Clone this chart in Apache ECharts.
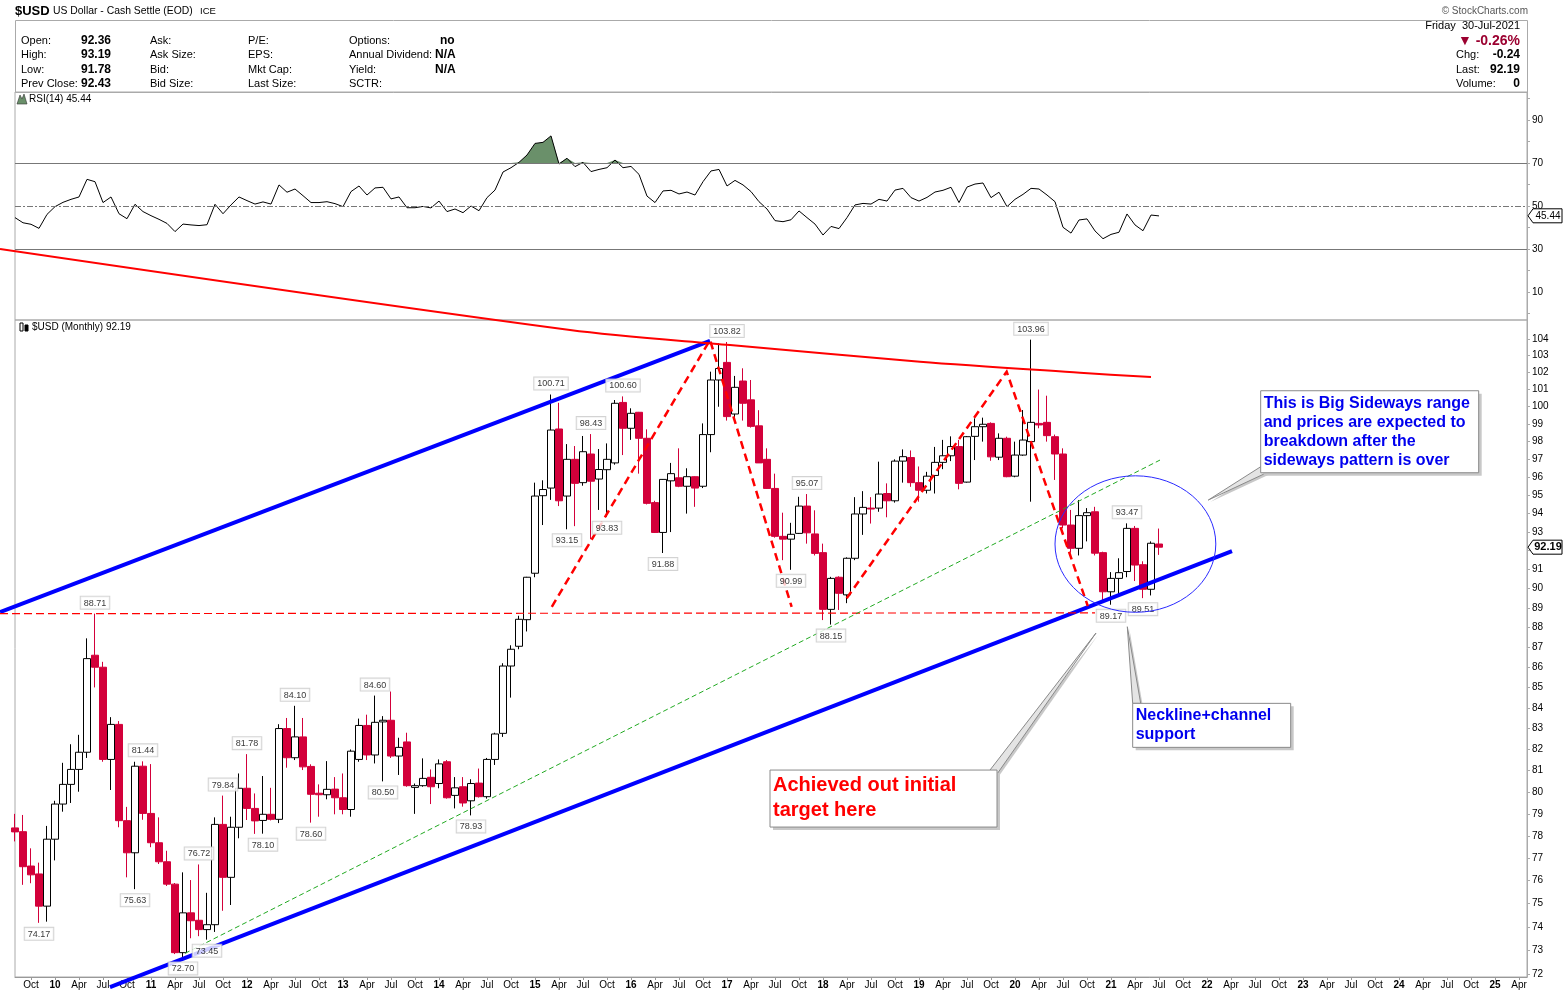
<!DOCTYPE html>
<html>
<head>
<meta charset="utf-8">
<script src="https://cdn.jsdelivr.net/npm/echarts@6/dist/echarts.min.js"></script>
<style>
  html, body { margin: 0; padding: 0; background: #fff; }
  #chart { width: 1565px; height: 992px; }
</style>
</head>
<body>
<div id="chart"></div>
<script>
// month index: 0 = Jan 2010, first bar is Aug 2009
const firstMonth = -5;

const opens = [
  78.36, 78.19, 76.65, 76.30, 74.89,
  77.85, 79.45, 80.36, 81.06, 81.87, 86.60, 86.00, 81.53, 83.20, 78.69, 77.24, 81.21,
  79.02, 77.69, 76.84, 75.85, 72.90, 74.60, 74.28, 73.88, 74.09, 78.52, 76.15, 78.39,
  80.18, 79.25, 78.70, 78.98, 78.75, 83.00, 81.61, 82.60, 81.20, 79.95, 79.88, 80.14,
  79.74, 79.20, 81.53, 83.15, 81.74, 83.32, 83.40, 81.69, 82.36, 80.22, 80.30, 80.69,
  80.40, 81.42, 79.85, 80.25, 79.60, 80.42, 79.79, 81.53, 82.77, 86.06, 87.05, 88.40,
  90.81, 94.98, 95.40, 98.72, 94.96, 97.00, 95.70, 97.30, 95.90, 96.42, 96.80, 100.25,
  98.76, 99.68, 98.19, 94.60, 92.98, 95.80, 95.97, 95.50, 96.03, 95.50, 98.40, 101.56,
  102.60, 99.58, 101.50, 100.40, 98.90, 97.00, 95.38, 92.77, 92.62, 92.93, 94.41, 92.90,
  91.90, 88.93, 90.60, 89.68, 91.60, 93.98, 94.30, 94.30, 95.10, 94.70, 96.90, 97.10,
  95.70, 95.28, 96.10, 96.83, 97.20, 97.72, 95.73, 98.30, 98.85, 99.04, 97.12, 98.19,
  96.06, 97.24, 98.00, 99.04, 99.10, 98.28, 97.30, 93.38, 92.13, 93.89, 94.10, 91.90,
  89.84, 90.54, 90.90, 93.20, 91.26, 89.97, 92.36
];
const highs = [
  79.00, 78.95, 77.44, 76.80, 78.45,
  79.60, 81.37, 82.25, 82.70, 87.45, 88.71, 86.27, 83.55, 83.36, 79.32, 81.42, 81.44,
  81.31, 78.84, 77.33, 75.90, 76.37, 76.03, 76.72, 75.47, 78.84, 79.84, 78.87, 80.87,
  81.78, 79.94, 80.75, 80.20, 83.21, 83.51, 84.10, 83.51, 81.30, 80.36, 81.45, 80.70,
  80.87, 82.00, 83.48, 83.67, 84.60, 83.60, 84.80, 82.56, 82.80, 80.40, 81.58, 81.06,
  81.53, 81.50, 80.70, 80.70, 80.60, 81.10, 81.60, 82.80, 86.20, 87.10, 88.60, 90.62,
  95.70, 95.83, 100.71, 100.23, 97.86, 97.75, 98.32, 98.43, 97.58, 97.90, 100.39, 100.60,
  99.91, 99.70, 98.70, 94.70, 95.90, 96.80, 97.62, 96.50, 96.05, 99.04, 102.05, 103.74,
  103.82, 101.80, 102.25, 101.56, 99.80, 97.62, 96.20, 94.05, 93.50, 94.92, 95.07, 94.18,
  92.38, 90.62, 90.65, 91.65, 94.90, 95.23, 94.90, 96.87, 95.66, 97.00, 97.56, 97.50,
  96.60, 96.30, 97.70, 98.10, 98.30, 98.10, 98.32, 99.33, 99.37, 99.10, 98.47, 98.28,
  98.00, 99.81, 103.96, 101.00, 100.64, 98.40, 97.62, 94.20, 94.74, 94.30, 94.37, 91.95,
  90.87, 91.60, 93.47, 93.33, 91.44, 92.50, 93.19
];
const lows = [
  77.75, 75.82, 75.89, 74.17, 74.22,
  76.90, 79.10, 79.50, 80.02, 81.60, 85.00, 81.42, 80.10, 78.39, 76.15, 75.63, 78.73,
  77.49, 76.74, 75.77, 72.84, 72.70, 73.51, 73.60, 73.45, 73.78, 74.69, 74.94, 77.89,
  78.72, 78.09, 78.10, 78.70, 78.58, 81.14, 81.50, 81.03, 78.60, 78.87, 79.67, 78.98,
  78.98, 78.87, 81.42, 81.50, 81.34, 80.50, 81.60, 80.80, 80.25, 79.00, 80.25, 79.45,
  80.18, 79.70, 79.25, 79.33, 78.93, 79.75, 79.70, 81.27, 82.60, 84.50, 86.90, 87.80,
  90.60, 93.38, 94.75, 94.41, 93.15, 93.32, 95.53, 92.62, 94.20, 93.83, 96.70, 97.24,
  98.10, 96.20, 94.50, 92.95, 91.88, 93.00, 95.45, 94.00, 94.37, 95.40, 97.40, 100.00,
  99.20, 99.20, 99.20, 98.80, 96.80, 95.35, 92.70, 91.50, 90.99, 92.90, 92.38, 91.75,
  88.38, 88.15, 88.90, 89.25, 91.50, 92.85, 93.46, 94.10, 93.80, 94.60, 95.70, 95.47,
  94.65, 95.10, 95.10, 96.45, 96.90, 95.33, 95.70, 96.96, 98.00, 96.92, 96.96, 96.00,
  96.00, 97.20, 94.65, 98.76, 98.00, 95.85, 93.20, 91.90, 91.75, 92.50, 91.75, 89.40,
  89.17, 89.70, 90.60, 90.40, 89.51, 89.65, 91.78
];
const closes = [
  78.18, 76.62, 76.26, 74.89, 77.85,
  79.45, 80.36, 81.06, 81.87, 86.43, 86.00, 81.53, 83.20, 78.69, 77.24, 81.21, 79.02,
  77.69, 76.84, 75.85, 72.90, 74.60, 74.26, 73.88, 74.09, 78.52, 76.15, 78.39, 80.18,
  79.25, 78.68, 78.98, 78.75, 83.00, 81.61, 82.60, 81.18, 79.90, 79.88, 80.13, 79.74,
  79.20, 81.92, 83.15, 81.74, 83.30, 83.40, 81.69, 82.10, 80.30, 80.30, 80.64, 80.25,
  81.32, 79.74, 80.20, 79.50, 80.40, 79.79, 81.53, 82.74, 86.06, 86.90, 88.42, 90.60,
  94.96, 95.32, 98.66, 94.70, 97.00, 95.66, 97.43, 95.78, 96.43, 97.00, 100.20, 98.76,
  99.62, 98.19, 94.56, 92.98, 95.88, 96.20, 95.50, 96.03, 95.40, 98.40, 101.56, 102.24,
  99.43, 101.13, 100.20, 98.87, 96.80, 95.38, 92.77, 92.62, 92.88, 94.41, 92.96, 91.86,
  88.93, 90.54, 89.76, 91.60, 93.98, 94.34, 94.25, 95.07, 94.70, 96.90, 97.15, 95.70,
  95.28, 96.06, 96.83, 97.20, 97.72, 95.66, 98.28, 98.85, 98.99, 97.14, 98.19, 96.03,
  97.24, 98.09, 99.10, 98.95, 98.34, 97.30, 93.38, 92.13, 93.89, 94.05, 91.87, 89.84,
  90.54, 90.84, 93.20, 91.24, 89.97, 92.40, 92.19
];
const rsi = [
  44.6, 42.2, 41.5, 39.6, 46.1,
  49.7, 51.7, 53.1, 54.2, 62.4, 61.3, 51.6, 54.2, 46.4, 44.1, 50.8, 47.4,
  45.5, 43.8, 41.9, 38.1, 41.6, 41.2, 40.9, 41.3, 50.8, 46.4, 50.5, 54.2,
  52.5, 50.9, 51.9, 50.9, 59.8, 56.4, 57.9, 54.8, 51.6, 51.6, 52.0, 51.1,
  49.7, 56.7, 59.3, 55.1, 58.4, 58.7, 53.3, 54.2, 49.2, 49.2, 49.8, 49.1,
  52.3, 47.4, 48.6, 46.9, 50.0, 47.8, 53.9, 57.4, 65.8, 67.8, 70.3, 73.7,
  79.1, 79.6, 82.6, 69.5, 72.2, 68.3, 70.3, 66.0, 67.0, 67.8, 71.4, 67.8,
  68.4, 64.7, 54.6, 51.6, 57.0, 57.3, 55.6, 56.5, 55.1, 61.3, 66.3, 67.0,
  59.3, 61.9, 59.8, 56.7, 52.0, 48.6, 43.2, 42.7, 43.6, 47.7, 44.6, 41.6,
  36.5, 40.5, 39.5, 44.6, 50.5, 51.2, 50.9, 53.1, 52.3, 57.4, 58.2, 53.9,
  52.3, 54.0, 56.5, 57.3, 58.7, 51.6, 58.8, 60.2, 60.7, 53.9, 56.4, 49.7,
  53.1, 55.4, 58.2, 57.9, 55.1, 52.0, 40.1, 37.4, 43.5, 44.0, 38.4, 34.8,
  36.8, 37.8, 46.3, 41.2, 38.5, 45.8, 45.4
];

const priceTicks = [72, 73, 74, 75, 76, 77, 78, 79, 80, 81, 82, 83, 84, 85, 86, 87, 88,
  89, 90, 91, 92, 93, 94, 95, 96, 97, 98, 99, 100, 101, 102, 103, 104];
const rsiTicks = [10, 30, 50, 70, 90];
const rsiMinorTicks = [0, 10, 20, 30, 40, 50, 60, 70, 80, 90, 100];
const monthTicks = [];
for (let m = -3; m <= 183; m += 3) monthTicks.push(m);
const monthNames = { 3: 'Apr', 6: 'Jul', 9: 'Oct' };

// high / low flags printed by the chart: [month, value]
const extremeLabels = [
  [-2, 74.17], [5, 88.71], [10, 75.63], [11, 81.44], [16, 72.70], [18, 76.72], [19, 73.45],
  [21, 79.84], [24, 81.78], [26, 78.10], [30, 84.10], [32, 78.60], [40, 84.60], [41, 80.50],
  [52, 78.93], [62, 100.71], [64, 93.15], [67, 98.43], [69, 93.83], [71, 100.60], [76, 91.88],
  [84, 103.82], [92, 90.99], [94, 95.07], [97, 88.15], [122, 103.96], [132, 89.17],
  [134, 93.47], [136, 89.51]
];

// drawn trend lines, as [month, price]
const upperChannel = [[-6.875, 88.79], [81.875, 103.88]];
const lowerChannel = [[6.875, 71.46], [147.125, 91.98]];
const resistanceLine = [[-6.875, 109.56], [64.375, 104.54], [84.375, 103.64], [108.125, 102.64], [128.125, 101.99], [137, 101.73]];
const necklineLevel = [[-6.875, 88.71], [130, 88.75]];
const greenTrend = [[16.25, 72.87], [138.125, 96.96]];
const firstTop = [[62.1, 89.06], [81.875, 103.94], [92.08, 89.06]];
const secondTop = [[98.96, 89.5], [118.96, 102.05], [129.1, 89.1]];
const rangeEllipse = [[125, 96.08], [145.1, 88.78]];

const lastClose = 92.19;
const lastRsi = 45.44;

const FONT = '"Liberation Sans", Arial, sans-serif';

const chart = echarts.init(document.getElementById('chart'));

const bars = opens.map((o, k) => [firstMonth + k, o, closes[k], lows[k], highs[k]]);
const rsiPoints = rsi.map((v, k) => [firstMonth + k, v]);
const overbought = rsi.map((v, k) => [firstMonth + k, Math.max(v, 70)]);

const option = {
  animation: false,
  backgroundColor: '#fff',
  grid: [
    { left: 15, right: 38, top: 92, height: 228, show: true, borderColor: '#aaa', borderWidth: 1 },
    { left: 15, right: 38, top: 320, height: 657, show: true, borderColor: '#aaa', borderWidth: 1 }
  ],
  xAxis: [
    { type: 'value', gridIndex: 0, min: -5, max: 184, show: false, splitLine: { show: false } },
    {
      type: 'value', gridIndex: 1, min: -5, max: 184,
      splitLine: { show: false },
      axisLine: { onZero: false, lineStyle: { color: '#999' } },
      axisTick: { customValues: monthTicks, length: 3, lineStyle: { color: '#999' } },
      axisLabel: {
        customValues: monthTicks, margin: 3, color: '#000', fontSize: 10, fontFamily: FONT,
        formatter: function (v) {
          const m = ((v % 12) + 12) % 12;
          if (m === 0) return '{yr|' + String(2010 + v / 12).slice(-2) + '}';
          return monthNames[m] || '';
        },
        rich: { yr: { fontWeight: 'bold', fontSize: 10, fontFamily: FONT, color: '#000' } }
      }
    }
  ],
  yAxis: [
    {
      type: 'value', gridIndex: 0, min: -3, max: 103, position: 'right',
      splitLine: { show: false },
      axisLine: { show: true, onZero: false, lineStyle: { color: '#aaa' } },
      axisTick: { show: true, customValues: rsiMinorTicks, length: 3, lineStyle: { color: '#aaa' } },
      axisLabel: { customValues: rsiTicks, color: '#000', fontSize: 10, fontFamily: FONT, margin: 5 }
    },
    {
      type: 'log', gridIndex: 1, min: 71.88, max: 105.15, position: 'right',
      splitLine: { show: false },
      axisLine: { show: true, onZero: false, lineStyle: { color: '#aaa' } },
      axisTick: { show: true, customValues: priceTicks, length: 3, lineStyle: { color: '#aaa' } },
      axisLabel: {
        customValues: priceTicks, color: '#000', fontSize: 10, fontFamily: FONT, margin: 5,
        formatter: function (v) { return String(Math.round(v)); }
      }
    }
  ],
  series: [
    {
      type: 'line', xAxisIndex: 0, yAxisIndex: 0, data: overbought, symbol: 'none', silent: true,
      lineStyle: { width: 0 }, areaStyle: { origin: 70, color: '#6a906a', opacity: 1 }, z: 1
    },
    {
      type: 'line', xAxisIndex: 0, yAxisIndex: 0, data: rsiPoints, symbol: 'none', silent: true,
      lineStyle: { color: '#000', width: 1 }, z: 3,
      markLine: {
        silent: true, symbol: 'none', label: { show: false }, animation: false,
        data: [
          { yAxis: 70, lineStyle: { color: '#777', width: 1, type: 'solid' } },
          { yAxis: 50, lineStyle: { color: '#777', width: 1, type: [6, 2, 2, 2] } },
          { yAxis: 30, lineStyle: { color: '#777', width: 1, type: 'solid' } }
        ]
      }
    },
    {
      type: 'candlestick', xAxisIndex: 1, yAxisIndex: 1, data: bars,
      encode: { x: 0, y: [1, 2, 3, 4] }, barWidth: 7, silent: true, clip: true,
      itemStyle: { color: '#fff', color0: '#d3003a', borderColor: '#000', borderColor0: '#d3003a', borderWidth: 1 },
      z: 3
    },
    {
      type: 'scatter', xAxisIndex: 1, yAxisIndex: 1, symbolSize: 0, silent: true, clip: false, z: 6,
      data: extremeLabels.map(function (d) {
        const isHigh = highs[d[0] - firstMonth] === d[1];
        return { value: d, label: { position: isHigh ? 'top' : 'bottom' } };
      }),
      label: {
        show: true, distance: 5, fontSize: 9, fontFamily: FONT, color: '#000',
        backgroundColor: '#fff', borderColor: '#c8c8c8', borderWidth: 1, padding: [2, 3, 1, 3],
        formatter: function (p) { return p.value[1].toFixed(2); }
      }
    }
  ]
};

chart.setOption(option);

function px(pt) { return chart.convertToPixel({ xAxisIndex: 1, yAxisIndex: 1 }, pt); }
function rsiPx(pt) { return chart.convertToPixel({ xAxisIndex: 0, yAxisIndex: 0 }, pt); }

function txt(x, y, text, font, color, align, z) {
  return {
    type: 'text', x: x, y: y, z: z || 50, silent: true,
    style: { text: text, font: font, fill: color || '#000', align: align || 'left', verticalAlign: 'middle',
      textAlign: align || 'left', textVerticalAlign: 'middle' }
  };
}

const g = [];
const small = '11px ' + FONT;
const bold = 'bold 12px ' + FONT;

// trend lines drawn by hand on the chart, placed through the price axes
function trend(points, color, width, dash, smooth) {
  g.push({
    type: 'polyline', z: 5, silent: true,
    shape: { points: points.map(px), smooth: smooth || 0 },
    style: { stroke: color, lineWidth: width, lineDash: dash || null, fill: 'none' }
  });
}
trend(upperChannel, '#0000ff', 4);
trend(lowerChannel, '#0000ff', 4);
trend(resistanceLine, '#ff0000', 2, null, 0.3);
trend(necklineLevel, '#ff0000', 1.2, [8, 4]);
trend(greenTrend, '#22aa22', 1, [5, 3]);
trend(firstTop, '#ff0000', 2.5, [8, 5]);
trend(secondTop, '#ff0000', 2.5, [8, 5]);

// header
g.push(txt(15, 11, '$USD', 'bold 13px ' + FONT));
g.push(txt(53, 11, 'US Dollar - Cash Settle (EOD)', '10.4px ' + FONT));
g.push(txt(200, 11, 'ICE', '9.5px ' + FONT));
g.push(txt(1528, 11, '\u00a9 StockCharts.com', '10px ' + FONT, '#555', 'right'));
g.push({ type: 'rect', shape: { x: 15.5, y: 20.5, width: 1512, height: 72 }, style: { fill: 'none', stroke: '#aaa', lineWidth: 1 }, z: 40, silent: true });
const rowsY = [41, 55, 69.5, 84];
[['Open:', '92.36'], ['High:', '93.19'], ['Low:', '91.78'], ['Prev Close:', '92.43']].forEach(function (r, k) {
  g.push(txt(21, rowsY[k], r[0], small));
  g.push(txt(81, rowsY[k], r[1], bold));
});
['Ask:', 'Ask Size:', 'Bid:', 'Bid Size:'].forEach(function (t, k) { g.push(txt(150, rowsY[k], t, small)); });
['P/E:', 'EPS:', 'Mkt Cap:', 'Last Size:'].forEach(function (t, k) { g.push(txt(248, rowsY[k], t, small)); });
['Options:', 'Annual Dividend:', 'Yield:', 'SCTR:'].forEach(function (t, k) { g.push(txt(349, rowsY[k], t, small)); });
g.push(txt(440, rowsY[0], 'no', bold));
g.push(txt(435, rowsY[1], 'N/A', bold));
g.push(txt(435, rowsY[2], 'N/A', bold));
g.push(txt(1520, 26, 'Friday  30-Jul-2021', small, '#000', 'right'));
g.push(txt(1520, 41, '\u25bc -0.26%', 'bold 14px ' + FONT, '#9b0030', 'right'));
g.push(txt(1456, 55, 'Chg:', small));
g.push(txt(1520, 55, '-0.24', bold, '#000', 'right'));
g.push(txt(1456, 69.5, 'Last:', small));
g.push(txt(1520, 69.5, '92.19', bold, '#000', 'right'));
g.push(txt(1456, 84, 'Volume:', small));
g.push(txt(1520, 84, '0', bold, '#000', 'right'));

// panel titles
g.push({ type: 'polygon', shape: { points: [[17, 104], [20, 95], [22, 99], [24, 94], [27, 104]] }, style: { fill: '#6a906a', stroke: '#333', lineWidth: 0.6 }, z: 50, silent: true });
g.push(txt(29, 99, 'RSI(14) 45.44', '10px ' + FONT));
g.push({ type: 'rect', shape: { x: 20, y: 323, width: 3, height: 8 }, style: { fill: '#fff', stroke: '#000', lineWidth: 1 }, z: 50, silent: true });
g.push({ type: 'rect', shape: { x: 25, y: 325, width: 3, height: 6 }, style: { fill: '#000', stroke: '#000', lineWidth: 1 }, z: 50, silent: true });
g.push(txt(32, 327, '$USD (Monthly) 92.19', '10px ' + FONT));

// value tags on the right axes
function tag(p, text, font) {
  const x0 = p[0] + 1, y = p[1];
  g.push({ type: 'polygon', shape: { points: [[x0, y], [x0 + 5, y - 7], [x0 + 34, y - 7], [x0 + 34, y + 7], [x0 + 5, y + 7]] },
    style: { fill: '#fff', stroke: '#000', lineWidth: 1 }, z: 60, silent: true });
  g.push(txt(x0 + 20, y, text, font, '#000', 'center', 61));
}
tag(rsiPx([184, lastRsi]), lastRsi.toFixed(2), '10px ' + FONT);
tag(px([184, lastClose]), lastClose.toFixed(2), 'bold 11px ' + FONT);

// ellipse around the recent range
const e0 = px(rangeEllipse[0]), e1 = px(rangeEllipse[1]);
g.push({ type: 'ellipse', shape: { cx: (e0[0] + e1[0]) / 2, cy: (e0[1] + e1[1]) / 2, rx: (e1[0] - e0[0]) / 2, ry: (e1[1] - e0[1]) / 2 },
  style: { fill: 'none', stroke: '#2a2aff', lineWidth: 1 }, z: 20, silent: true });

// callouts
function callout(corner, w, h, tip, base, lines, font, lh, color) {
  const c = px(corner), t = px(tip);
  const b1 = [c[0] + base[0][0], c[1] + base[0][1]], b2 = [c[0] + base[1][0], c[1] + base[1][1]];
  g.push({ type: 'polygon', shape: { points: [[b1[0] + 2, b1[1] + 2], [t[0] + 2, t[1] + 2], [b2[0] + 2, b2[1] + 2]] }, style: { fill: '#c8c8c8', stroke: 'none' }, z: 30, silent: true });
  g.push({ type: 'polygon', shape: { points: [b1, t, b2] }, style: { fill: '#e4e4e4', stroke: '#8a8a8a', lineWidth: 1 }, z: 31, silent: true });
  g.push({ type: 'rect', shape: { x: c[0] + 3, y: c[1] + 3, width: w, height: h }, style: { fill: '#c8c8c8', stroke: 'none' }, z: 32, silent: true });
  g.push({ type: 'rect', shape: { x: c[0], y: c[1], width: w, height: h }, style: { fill: '#fff', stroke: '#8a8a8a', lineWidth: 1 }, z: 33, silent: true });
  g.push({ type: 'text', x: c[0] + 3, y: c[1] + 3, z: 34, silent: true,
    style: { text: lines.join('\n'), font: font, fill: color, lineHeight: lh, align: 'left', verticalAlign: 'top', textAlign: 'left', textVerticalAlign: 'top' } });
}
callout([150.71, 100.93], 218, 82, [144.16, 94.74], [[0, 76], [6, 82]],
  ['This is Big Sideways range', 'and prices are expected to', 'breakdown after the', 'sideways pattern is over'],
  'bold 16px ' + FONT, 19, '#0000ee');
callout([134.71, 84.22], 158, 44, [134.04, 88.04], [[0, 0], [8, 0]],
  ['Neckline+channel', 'support'], 'bold 16px ' + FONT, 19, '#0000ee');
callout([89.375, 81.03], 227, 57, [130.125, 87.72], [[220, 0], [227, 4]],
  ['Achieved out initial', 'target here'], 'bold 20px ' + FONT, 25, '#ff0000');

chart.setOption({ graphic: g });
</script>
</body>
</html>
